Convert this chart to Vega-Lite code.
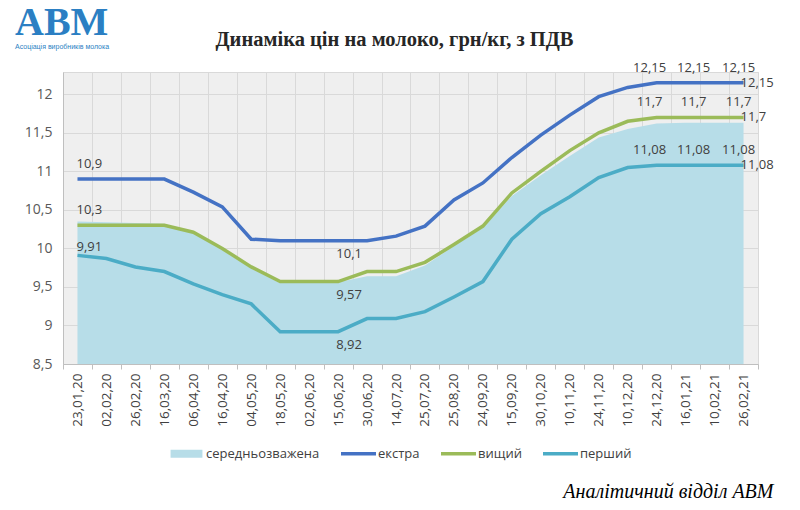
{
  "$schema": "https://vega.github.io/schema/vega-lite/v6.json",
  "autosize": {"type": "none"},
  "width": 695,
  "height": 292,
  "padding": {"left": 63, "top": 72, "right": 42, "bottom": 146},
  "background": "white",
  "title": {
    "text": "АВМ",
    "subtitle": "Асоціація виробників молока",
    "anchor": "start",
    "frame": "group",
    "dx": -48,
    "dy": 21,
    "offset": 0,
    "font": "Liberation Serif",
    "fontSize": 40,
    "fontWeight": "bold",
    "color": "#2b7fc3",
    "subtitleFont": "Liberation Sans",
    "subtitleFontSize": 7,
    "subtitleColor": "#2b7fc3",
    "subtitlePadding": 0
  },
  "datasets": {
    "milk": [
      {"date": "23,01,20", "grade": "середньозважена", "price": 10.35},
      {"date": "02,02,20", "grade": "середньозважена", "price": 10.34},
      {"date": "26,02,20", "grade": "середньозважена", "price": 10.33},
      {"date": "16,03,20", "grade": "середньозважена", "price": 10.32},
      {"date": "06,04,20", "grade": "середньозважена", "price": 10.2},
      {"date": "16,04,20", "grade": "середньозважена", "price": 9.98},
      {"date": "04,05,20", "grade": "середньозважена", "price": 9.74},
      {"date": "18,05,20", "grade": "середньозважена", "price": 9.55},
      {"date": "02,06,20", "grade": "середньозважена", "price": 9.55},
      {"date": "15,06,20", "grade": "середньозважена", "price": 9.56},
      {"date": "30,06,20", "grade": "середньозважена", "price": 9.64},
      {"date": "14,07,20", "grade": "середньозважена", "price": 9.64},
      {"date": "25,07,20", "grade": "середньозважена", "price": 9.78},
      {"date": "25,08,20", "grade": "середньозважена", "price": 10.03},
      {"date": "24,09,20", "grade": "середньозважена", "price": 10.27},
      {"date": "15,09,20", "grade": "середньозважена", "price": 10.68},
      {"date": "30,10,20", "grade": "середньозважена", "price": 10.95},
      {"date": "10,11,20", "grade": "середньозважена", "price": 11.2},
      {"date": "24,11,20", "grade": "середньозважена", "price": 11.44},
      {"date": "10,12,20", "grade": "середньозважена", "price": 11.55},
      {"date": "24,12,20", "grade": "середньозважена", "price": 11.62},
      {"date": "16,01,21", "grade": "середньозважена", "price": 11.63},
      {"date": "10,02,21", "grade": "середньозважена", "price": 11.63},
      {"date": "26,02,21", "grade": "середньозважена", "price": 11.63},
      {"date": "23,01,20", "grade": "екстра", "price": 10.9},
      {"date": "02,02,20", "grade": "екстра", "price": 10.9},
      {"date": "26,02,20", "grade": "екстра", "price": 10.9},
      {"date": "16,03,20", "grade": "екстра", "price": 10.9},
      {"date": "06,04,20", "grade": "екстра", "price": 10.73},
      {"date": "16,04,20", "grade": "екстра", "price": 10.54},
      {"date": "04,05,20", "grade": "екстра", "price": 10.12},
      {"date": "18,05,20", "grade": "екстра", "price": 10.1},
      {"date": "02,06,20", "grade": "екстра", "price": 10.1},
      {"date": "15,06,20", "grade": "екстра", "price": 10.1},
      {"date": "30,06,20", "grade": "екстра", "price": 10.1},
      {"date": "14,07,20", "grade": "екстра", "price": 10.16},
      {"date": "25,07,20", "grade": "екстра", "price": 10.29},
      {"date": "25,08,20", "grade": "екстра", "price": 10.63},
      {"date": "24,09,20", "grade": "екстра", "price": 10.85},
      {"date": "15,09,20", "grade": "екстра", "price": 11.18},
      {"date": "30,10,20", "grade": "екстра", "price": 11.47},
      {"date": "10,11,20", "grade": "екстра", "price": 11.73},
      {"date": "24,11,20", "grade": "екстра", "price": 11.97},
      {"date": "10,12,20", "grade": "екстра", "price": 12.09},
      {"date": "24,12,20", "grade": "екстра", "price": 12.15},
      {"date": "16,01,21", "grade": "екстра", "price": 12.15},
      {"date": "10,02,21", "grade": "екстра", "price": 12.15},
      {"date": "26,02,21", "grade": "екстра", "price": 12.15},
      {"date": "23,01,20", "grade": "вищий", "price": 10.3},
      {"date": "02,02,20", "grade": "вищий", "price": 10.3},
      {"date": "26,02,20", "grade": "вищий", "price": 10.3},
      {"date": "16,03,20", "grade": "вищий", "price": 10.3},
      {"date": "06,04,20", "grade": "вищий", "price": 10.21},
      {"date": "16,04,20", "grade": "вищий", "price": 10.0},
      {"date": "04,05,20", "grade": "вищий", "price": 9.76},
      {"date": "18,05,20", "grade": "вищий", "price": 9.57},
      {"date": "02,06,20", "grade": "вищий", "price": 9.57},
      {"date": "15,06,20", "grade": "вищий", "price": 9.57},
      {"date": "30,06,20", "grade": "вищий", "price": 9.7},
      {"date": "14,07,20", "grade": "вищий", "price": 9.7},
      {"date": "25,07,20", "grade": "вищий", "price": 9.82},
      {"date": "25,08,20", "grade": "вищий", "price": 10.05},
      {"date": "24,09,20", "grade": "вищий", "price": 10.29},
      {"date": "15,09,20", "grade": "вищий", "price": 10.72},
      {"date": "30,10,20", "grade": "вищий", "price": 11.0},
      {"date": "10,11,20", "grade": "вищий", "price": 11.27},
      {"date": "24,11,20", "grade": "вищий", "price": 11.5},
      {"date": "10,12,20", "grade": "вищий", "price": 11.65},
      {"date": "24,12,20", "grade": "вищий", "price": 11.7},
      {"date": "16,01,21", "grade": "вищий", "price": 11.7},
      {"date": "10,02,21", "grade": "вищий", "price": 11.7},
      {"date": "26,02,21", "grade": "вищий", "price": 11.7},
      {"date": "23,01,20", "grade": "перший", "price": 9.91},
      {"date": "02,02,20", "grade": "перший", "price": 9.87},
      {"date": "26,02,20", "grade": "перший", "price": 9.76},
      {"date": "16,03,20", "grade": "перший", "price": 9.7},
      {"date": "06,04,20", "grade": "перший", "price": 9.54},
      {"date": "16,04,20", "grade": "перший", "price": 9.4},
      {"date": "04,05,20", "grade": "перший", "price": 9.28},
      {"date": "18,05,20", "grade": "перший", "price": 8.92},
      {"date": "02,06,20", "grade": "перший", "price": 8.92},
      {"date": "15,06,20", "grade": "перший", "price": 8.92},
      {"date": "30,06,20", "grade": "перший", "price": 9.09},
      {"date": "14,07,20", "grade": "перший", "price": 9.09},
      {"date": "25,07,20", "grade": "перший", "price": 9.18},
      {"date": "25,08,20", "grade": "перший", "price": 9.37},
      {"date": "24,09,20", "grade": "перший", "price": 9.57},
      {"date": "15,09,20", "grade": "перший", "price": 10.12},
      {"date": "30,10,20", "grade": "перший", "price": 10.45},
      {"date": "10,11,20", "grade": "перший", "price": 10.67},
      {"date": "24,11,20", "grade": "перший", "price": 10.92},
      {"date": "10,12,20", "grade": "перший", "price": 11.05},
      {"date": "24,12,20", "grade": "перший", "price": 11.08},
      {"date": "16,01,21", "grade": "перший", "price": 11.08},
      {"date": "10,02,21", "grade": "перший", "price": 11.08},
      {"date": "26,02,21", "grade": "перший", "price": 11.08}
    ]
  },
  "data": {"name": "milk"},
  "encoding": {
    "x": {
      "field": "date",
      "type": "ordinal",
      "sort": null,
      "bandPosition": 0.5,
      "scale": {"type": "band", "paddingInner": 0, "paddingOuter": 0},
      "axis": {
        "title": "Аналітичний відділ АВМ",
        "titleFont": "Liberation Serif",
        "titleFontStyle": "italic",
        "titleFontWeight": "normal",
        "titleFontSize": 20,
        "titleColor": "#000000",
        "titleAngle": 0,
        "titleAlign": "right",
        "titleBaseline": "alphabetic",
        "titleX": 710,
        "titleY": 133,
        "labelAngle": 270,
        "labelFont": "Open Sans",
        "labelFontSize": 13.5,
        "labelColor": "#404040",
        "labelPadding": 4,
        "labelOverlap": false,
        "tickBand": "extent",
        "tickSize": 5,
        "tickColor": "#bfbfbf",
        "grid": true,
        "gridColor": "#d9d9d9",
        "domainColor": "#bfbfbf"
      }
    },
    "y": {
      "field": "price",
      "type": "quantitative",
      "scale": {"domain": [8.5, 12.29], "zero": false, "nice": false},
      "axis": {
        "values": [8.5, 9, 9.5, 10, 10.5, 11, 11.5, 12],
        "format": "~g",
        "labelFont": "Open Sans",
        "labelFontSize": 14,
        "labelColor": "#595959",
        "ticks": false,
        "labelPadding": 11,
        "domainColor": "#bfbfbf",
        "gridColor": "#d9d9d9",
        "title": "Динаміка цін на молоко, грн/кг, з ПДВ",
        "titleAngle": 0,
        "titleX": 331,
        "titleY": -27,
        "titleAlign": "center",
        "titleBaseline": "alphabetic",
        "titleFont": "Liberation Serif",
        "titleFontSize": 20.5,
        "titleFontWeight": "bold",
        "titleColor": "#262626"
      }
    }
  },
  "layer": [
    {
      "transform": [{"filter": "datum.grade === 'середньозважена'"}],
      "mark": {"type": "area", "opacity": 1, "clip": true},
      "encoding": {
        "color": {
          "field": "grade",
          "type": "nominal",
          "scale": {
            "domain": ["середньозважена", "екстра", "вищий", "перший"],
            "range": ["#b7dde8", "#4472c4", "#9bbb59", "#4bacc6"]
          },
          "legend": {
            "orient": "none",
            "legendX": 106,
            "legendY": 364,
            "direction": "horizontal",
            "title": null,
            "symbolType": "M-1,-0.1H1V0.1H-1ZM-1,-0.23M1,0.23",
            "symbolSize": 1225,
            "symbolStrokeWidth": 0,
            "symbolOpacity": 1,
            "labelFont": "Open Sans",
            "labelFontSize": 13,
            "labelColor": "#404040",
            "labelOffset": 2,
            "columnPadding": 21,
            "encode": {
              "symbols": {
                "update": {
                  "shape": {"signal": "datum.value === 'середньозважена' ? 'M-0.91,-0.23H0.91V0.23H-0.91Z' : 'M-1,-0.1H1V0.1H-1ZM-1,-0.23M1,0.23'"},
                  "fill": {"scale": "color", "field": "value"},
                  "stroke": {"value": "transparent"},
                  "strokeWidth": {"value": 0},
                  "opacity": {"value": 1}
                }
              }
            }
          }
        }
      }
    },
    {
      "transform": [{"filter": "datum.grade !== 'середньозважена'"}],
      "mark": {"type": "line", "strokeWidth": 3.5},
      "encoding": {
        "color": {"field": "grade", "type": "nominal"}
      }
    },
    {
      "transform": [{"filter": "datum.date === '23,01,20' && (datum.grade === 'екстра' || datum.grade === 'вищий')"}],
      "mark": {"type": "text", "align": "left", "baseline": "middle", "dx": -1, "dy": -15, "font": "Open Sans", "fontSize": 13, "fill": "#404040"},
      "encoding": {"text": {"field": "price", "type": "quantitative", "format": "~g"}}
    },
    {
      "transform": [{"filter": "datum.date === '23,01,20' && datum.grade === 'перший'"}],
      "mark": {"type": "text", "align": "left", "baseline": "middle", "dx": -1, "dy": -8, "font": "Open Sans", "fontSize": 13, "fill": "#404040"},
      "encoding": {"text": {"field": "price", "type": "quantitative", "format": "~g"}}
    },
    {
      "transform": [{"filter": "datum.date === '15,06,20' && datum.grade !== 'середньозважена'"}],
      "mark": {"type": "text", "align": "center", "baseline": "middle", "dx": 11, "dy": 13, "font": "Open Sans", "fontSize": 13, "fill": "#404040"},
      "encoding": {"text": {"field": "price", "type": "quantitative", "format": "~g"}}
    },
    {
      "transform": [{"filter": "datum.date === '24,12,20' && datum.grade !== 'середньозважена'"}],
      "mark": {"type": "text", "align": "center", "baseline": "middle", "dx": -7, "dy": -15, "font": "Open Sans", "fontSize": 13, "fill": "#404040"},
      "encoding": {"text": {"field": "price", "type": "quantitative", "format": "~g"}}
    },
    {
      "transform": [{"filter": "datum.date === '16,01,21' && datum.grade !== 'середньозважена'"}],
      "mark": {"type": "text", "align": "center", "baseline": "middle", "dx": 8, "dy": -15, "font": "Open Sans", "fontSize": 13, "fill": "#404040"},
      "encoding": {"text": {"field": "price", "type": "quantitative", "format": "~g"}}
    },
    {
      "transform": [{"filter": "datum.date === '10,02,21' && datum.grade !== 'середньозважена'"}],
      "mark": {"type": "text", "align": "center", "baseline": "middle", "dx": 24, "dy": -15, "font": "Open Sans", "fontSize": 13, "fill": "#404040"},
      "encoding": {"text": {"field": "price", "type": "quantitative", "format": "~g"}}
    },
    {
      "transform": [{"filter": "datum.date === '26,02,21' && datum.grade !== 'середньозважена'"}],
      "mark": {"type": "text", "align": "left", "baseline": "middle", "dx": -3, "dy": 0, "font": "Open Sans", "fontSize": 13, "fill": "#404040"},
      "encoding": {"text": {"field": "price", "type": "quantitative", "format": "~g"}}
    }
  ],
  "config": {
    "locale": {
      "number": {"decimal": ",", "thousands": " ", "grouping": [3], "currency": ["", " грн"]}
    },
    "view": {"fill": "#efefef", "stroke": "#d9d9d9"}
  }
}
